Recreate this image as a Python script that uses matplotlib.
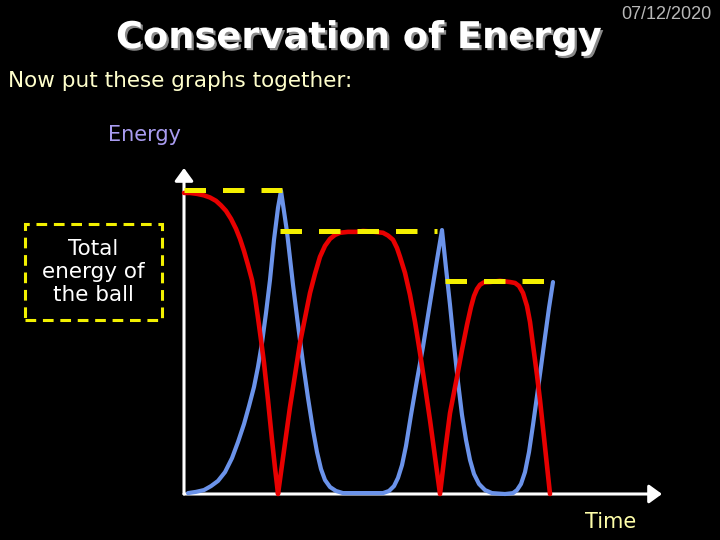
import matplotlib
matplotlib.use("Agg")
import matplotlib.pyplot as plt
import matplotlib.patheffects as pe

# energy in J (top level = 100), time in arbitrary units
pe_time = [0.0, 0.6, 1.3, 2.0, 2.6, 3.2, 3.7, 4.2, 4.7, 5.2, 5.6, 6.0, 6.4,
           6.8, 7.1, 7.4, 7.7, 8.0, 8.4, 8.8, 9.1, 9.3, 9.4,
           10.6, 11.6, 12.6, 13.1, 13.6, 14.1, 14.6, 15.1, 15.6, 16.4, 17.3,
           17.9, 18.8, 19.9, 20.4, 20.9, 21.3, 21.6, 22.1, 22.6, 23.1, 23.6,
           24.1, 24.6, 25.1, 25.6,
           26.1, 26.6, 27.3, 27.8, 28.3, 28.7, 29.0, 29.3, 29.6, 30.0, 30.6,
           31.6, 32.6, 33.1, 33.5, 33.9, 34.3, 34.6, 34.9, 35.3, 35.6, 36.1,
           36.6]
pe_energy = [99.0, 99.0, 98.7, 98.2, 97.5, 96.4, 94.9, 93.1, 90.5, 87.2, 83.9,
             79.9, 75.3, 70.4, 64.8, 57.9, 50.7, 43.1, 30.9, 17.8, 8.6, 3.0,
             0.0,
             28.6, 49.7, 66.1, 72.4, 78.0, 81.6, 83.9, 85.2, 85.9, 86.2, 86.2,
             86.5, 86.3, 85.9, 85.0, 83.6, 80.9, 78.0, 72.7, 65.5, 56.6, 46.4,
             35.5, 24.3, 12.2, 0.0,
             13.8, 26.6, 38.5, 47.4, 55.6, 61.5, 65.1, 67.4, 68.8, 69.6, 69.7,
             70.1, 69.7, 69.4, 68.4, 66.1, 61.8, 56.6, 49.0, 39.1, 30.9, 15.5,
             0.0]

ke_time = [0.4, 1.2, 2.0, 2.7, 3.4, 4.1, 4.8, 5.4, 6.0, 6.5, 7.0, 7.4, 7.8,
           8.2, 8.6, 9.0, 9.4, 9.7,
           10.3, 10.9, 11.4, 11.9, 12.4, 12.9, 13.3, 13.7, 14.1, 14.6, 15.2,
           15.9, 19.9, 20.5, 21.0, 21.4, 21.8, 22.2, 22.7, 23.3, 23.9, 24.6,
           25.3, 25.8,
           26.2, 26.6, 27.0, 27.4, 27.8, 28.2, 28.6, 29.0, 29.5, 30.1, 30.8,
           32.1, 32.9, 33.3, 33.7, 34.1, 34.5, 34.9, 35.3, 35.7, 36.1, 36.5,
           36.9]
ke_energy = [0.3, 0.7, 1.3, 2.6, 4.3, 7.2, 11.8, 17.1, 23.0, 28.9, 35.2, 41.8,
             49.7, 59.5, 70.4, 83.6, 94.1, 99.7,
             86.2, 68.8, 55.6, 43.1, 31.6, 21.1, 13.8, 8.2, 4.6, 2.3, 1.0,
             0.3, 0.3, 1.0, 2.6, 5.3, 9.5, 15.8, 26.0, 37.5, 48.4, 62.8,
             77.0, 86.8,
             74.3, 62.2, 49.0, 36.8, 26.0, 17.8, 11.2, 6.6, 3.3, 1.3, 0.3,
             0.0, 0.3, 1.3, 3.3, 7.2, 13.8, 22.7, 32.2, 41.8, 51.6, 61.2,
             69.7]

# total energy after each bounce: (start time, end time, level)
total_start = [0.0, 9.6, 26.1]
total_end = [9.8, 25.3, 37.4]
total_level = [100.0, 86.5, 70.0]

fig = plt.figure(figsize=(7.2, 5.4), dpi=100, facecolor="black")
body_font = "DejaVu Sans"


def px(x, y):
    return x / 720, 1 - y / 540


# title with grey drop shadow
fig.text(*px(359, 48), "Conservation of Energy", ha="center", va="baseline",
         fontsize=26.5, fontweight="bold", color="white", family=body_font,
         path_effects=[pe.SimplePatchShadow(offset=(1.6, -1.6),
                                            shadow_rgbFace="#8a8a8a",
                                            alpha=1.0),
                       pe.Normal()])

fig.text(*px(712, 19), "07/12/2020", ha="right", va="baseline", fontsize=13,
         color="#b8b8b8", family="Liberation Sans")
fig.text(*px(8, 87), "Now put these graphs together:", ha="left",
         va="baseline", fontsize=15.5, color="#ffffcc", family=body_font)
fig.text(*px(108, 141), "Energy", ha="left", va="baseline", fontsize=15,
         color="#a99cf0", family=body_font)
fig.text(*px(585, 528), "Time", ha="left", va="baseline", fontsize=15,
         color="#ffffaa", family=body_font)

# dashed key box
bx0, by0 = px(25, 320)
bx1, by1 = px(162, 224)
box = plt.Rectangle((bx0, by0), bx1 - bx0, by1 - by0, transform=fig.transFigure,
                    fill=False, edgecolor="#f2f000", linewidth=2.2,
                    linestyle=(0, (3.5, 2.2)))
fig.add_artist(box)
fig.text(*px(93, 272), "Total\nenergy of\nthe ball", ha="center", va="center",
         fontsize=15.5, color="white", linespacing=1.2, family=body_font)

# main axes: origin at pixel (184, 494)
ax = fig.add_axes([184 / 720, 46 / 540, 478 / 720, 326 / 540])
ax.set_facecolor("black")
ax.set_xlim(0, 47.8)
ax.set_ylim(0, 107.2)
for s in ax.spines.values():
    s.set_visible(False)
ax.set_xticks([])
ax.set_yticks([])

arrow = dict(arrowstyle="-|>,head_length=0.55,head_width=0.4", color="white",
             lw=2.2, shrinkA=0, shrinkB=0, mutation_scale=14)
ax.annotate("", xy=(1, 0), xytext=(0, 0), xycoords="axes fraction",
            arrowprops=arrow, annotation_clip=False)
ax.annotate("", xy=(0, 1), xytext=(0, 0), xycoords="axes fraction",
            arrowprops=arrow, annotation_clip=False)

ax.plot(ke_time, ke_energy, color="#6b93ea", lw=3, solid_joinstyle="round",
        solid_capstyle="round", clip_on=False, zorder=3)
ax.plot(pe_time, pe_energy, color="#e80000", lw=3.3, solid_joinstyle="round",
        solid_capstyle="round", clip_on=False, zorder=4)
for t0, t1, e in zip(total_start, total_end, total_level):
    ax.plot([t0, t1], [e, e], color="#f5f000", lw=3.6,
            linestyle=(0, (4.3, 3.4)), dash_capstyle="butt",
            clip_on=False, zorder=5)

fig.savefig("out.png", dpi=100, facecolor="black")
